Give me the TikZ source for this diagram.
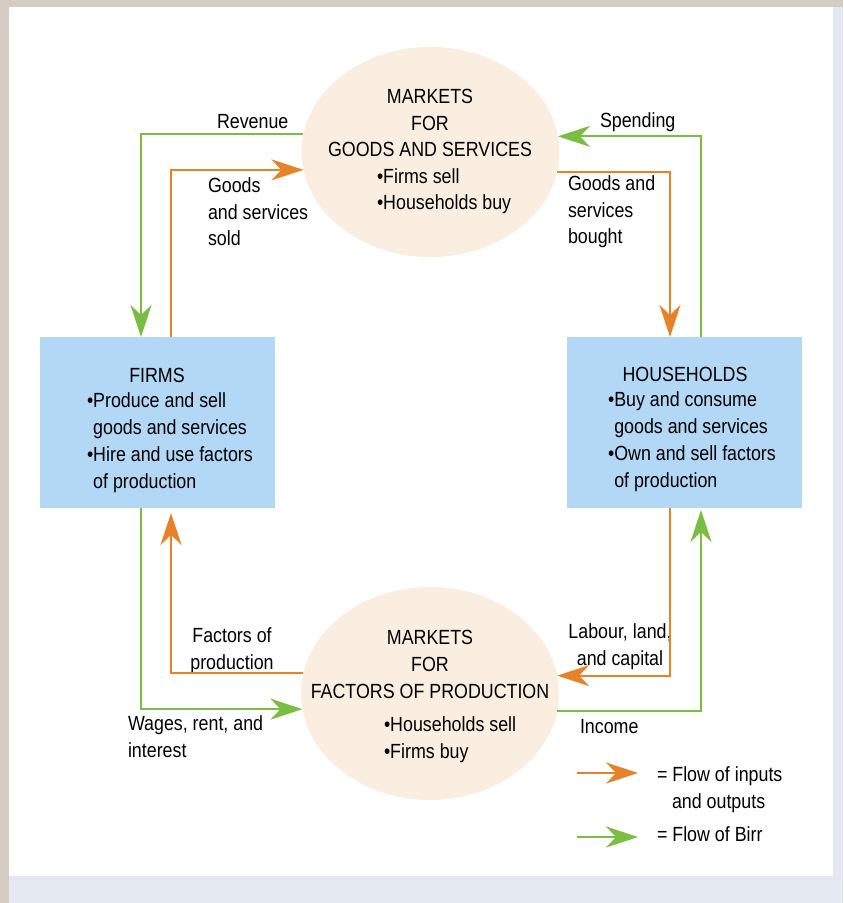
\documentclass[tikz,border=0pt]{standalone}
\usepackage{fontspec}
\setmainfont[FakeStretch=0.87]{Liberation Sans}
\usetikzlibrary{arrows.meta,shapes.geometric}
\definecolor{orng}{HTML}{E8822A}
\definecolor{grn}{HTML}{7ABD42}
\definecolor{boxblue}{HTML}{B3D8F6}
\definecolor{cream}{HTML}{FAEEE0}
\definecolor{beige}{HTML}{D5CDC2}
\definecolor{bluegray}{HTML}{E4E8F0}
\begin{document}
\begin{tikzpicture}[x=0.5pt,y=-0.5pt,
  txt/.style={inner sep=0pt, outer sep=0pt, font=\fontsize{10.25}{13.4}\selectfont},
  market/.style={ellipse, fill=cream, draw=none, minimum width=129pt, minimum height=105pt, inner sep=0pt, outer sep=0pt},
  agent/.style={rectangle, fill=boxblue, draw=none, minimum width=117.5pt, minimum height=85.5pt, inner sep=0pt, outer sep=0pt},
  tipS/.style={-{Stealth[length=16pt,width=10.5pt,inset=5pt]}},
  oflow/.style={draw=orng, line width=1pt, tipS},
  gflow/.style={draw=grn, line width=1pt, tipS},
]
% background frame
\fill[bluegray] (0,0) rectangle (843,903);
\fill[beige] (0,0) rectangle (843,7);
\fill[beige] (0,0) rectangle (9,903);
\fill[white] (9,7) rectangle (833,876);
\useasboundingbox (0,0) rectangle (843,903);

% main shapes
\node[market] (mg) at (430.5,152) {};
\node[market, minimum height=106.5pt] (mf) at (430,693.5) {};
\node[agent] (firms) at (157.5,422.5) {};
\node[agent] (hh) at (684.5,422.5) {};

% texts inside shapes (base anchor = baseline of last line)
\node[txt, anchor=base, align=center] (mgh) at (430,157) {MARKETS\\FOR\\GOODS AND SERVICES};
\node[txt, anchor=base west, align=left] (mgb) at (377,210) {•Firms sell\\•Households buy};
\node[txt, anchor=base, align=center] (mfh) at (430,698) {MARKETS\\FOR\\FACTORS OF PRODUCTION};
\node[txt, anchor=base west, align=left] (mfb) at (384,758) {•Households sell\\•Firms buy};
\node[txt, anchor=base] (firmsh) at (157,382) {FIRMS};
\node[txt, anchor=base west, align=left] (firmsb) at (87,488) {•Produce and sell\\\phantom{•}goods and services\\•Hire and use factors\\\phantom{•}of production};
\node[txt, anchor=base] (hhh) at (685,381) {HOUSEHOLDS};
\node[txt, anchor=base west, align=left] (hhb) at (608,487) {•Buy and consume\\\phantom{•}goods and services\\•Own and sell factors\\\phantom{•}of production};

% flow labels
\node[txt, anchor=base west] (lrev) at (217,129) {Revenue};
\node[txt, anchor=base west] (lspend) at (600,128) {Spending};
\node[txt, anchor=base west, align=left] (lsold) at (208,246) {Goods\\and services\\sold};
\node[txt, anchor=base west, align=left] (lbought) at (568,244) {Goods and\\services\\bought};
\node[txt, anchor=base, align=center] (lfac) at (232,669) {Factors of\\production};
\node[txt, anchor=base west, align=left] (lwage) at (128,757) {Wages, rent, and\\interest};
\node[txt, anchor=base, align=center] (llab) at (620,665) {Labour, land,\\and capital};
\node[txt, anchor=base west] (linc) at (580,733) {Income};

% connector columns
\coordinate (gL) at (141,0);
\coordinate (oL) at (171,0);
\coordinate (oR) at (670,0);
\coordinate (gR) at (701,0);

% top loop
\draw[gflow] (mg.172.85) -| (firms.north -| gL);
\draw[oflow] (firms.north -| oL) |- (mg.188.5);
\draw[gflow] (hh.north -| gR) |- (mg.7.15);
\draw[oflow] (mg.351.5) -| (hh.north -| oR);
% bottom loop
\draw[oflow, shorten >=2.5pt] (mf.171.7) -| (firms.south -| oL);
\draw[gflow] (firms.south -| gL) |- (mf.187.37);
\draw[oflow] (hh.south -| oR) |- (mf.8.29);
\draw[gflow, shorten >=1pt] (mf.352.63) -| (hh.south -| gR);

% legend
\coordinate (lo1) at (577,773);
\coordinate (lo2) at (638,773);
\coordinate (lg1) at (577,837);
\coordinate (lg2) at (638,837);
\draw[oflow] (lo1) -- (lo2);
\draw[gflow] (lg1) -- (lg2);
\node[txt, anchor=base west, align=left] (leg1) at (657,808) {= Flow of inputs\\\hspace*{7.5pt}and outputs};
\node[txt, anchor=base west] (leg2) at (657,841) {= Flow of Birr};
\end{tikzpicture}
\end{document}
